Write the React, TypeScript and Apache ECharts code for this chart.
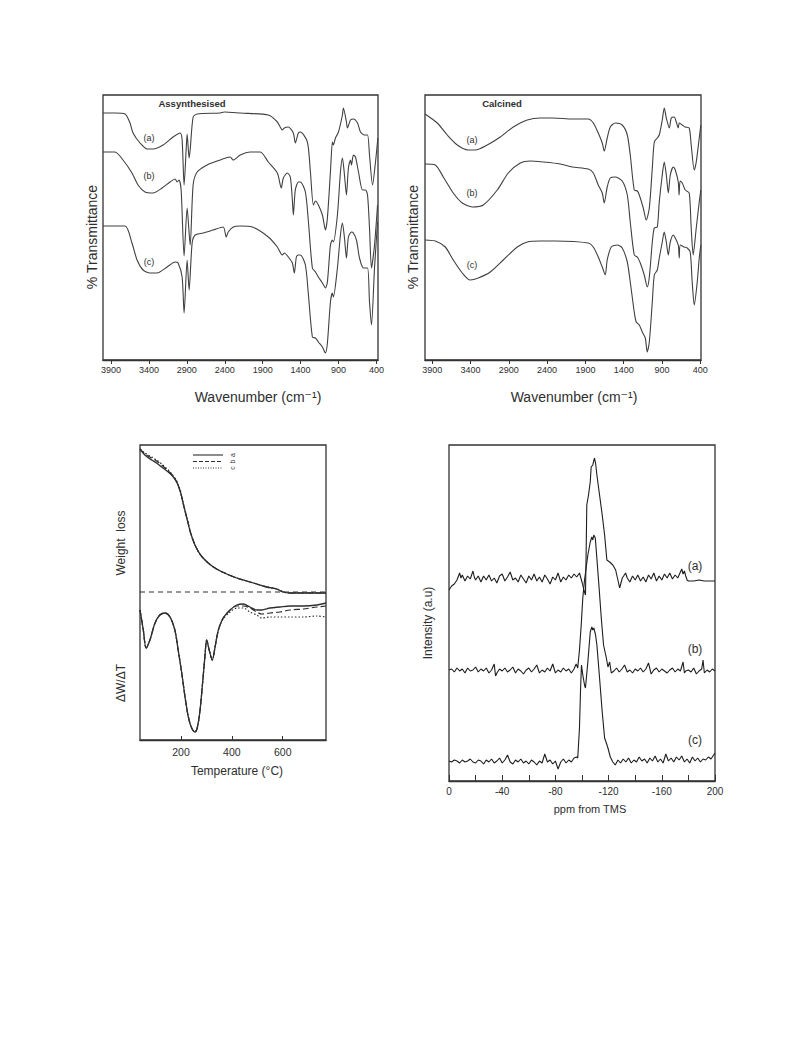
import React, { useEffect, useRef } from "react";
import * as echarts from "echarts";

// ---------- Panel 1: IR, as-synthesised (wavenumber cm-1, relative transmittance) ----------
const irTickValues = [400, 900, 1400, 1900, 2400, 2900, 3400, 3900];

const irSynA: [number, number][] = [
  [4005, 247], [3847, 247], [3715, 246], [3649, 237], [3609, 227], [3517, 217], [3424, 211], [3345, 211],
  [3213, 215], [3081, 223], [2988, 227], [2962, 220], [2936, 175], [2909, 210], [2896, 226], [2870, 202],
  [2856, 210], [2817, 243], [2764, 246], [2460, 247], [2407, 248], [2196, 247], [1826, 245], [1707, 238],
  [1641, 230], [1615, 232], [1562, 233], [1496, 227], [1470, 217], [1430, 227], [1403, 228], [1311, 218],
  [1271, 188], [1232, 155], [1205, 159], [1166, 155], [1113, 145], [1073, 130], [1047, 142], [1007, 188],
  [981, 218], [968, 215], [941, 222], [901, 228], [849, 245], [836, 252], [796, 238], [783, 232],
  [743, 240], [704, 241], [650, 237], [611, 228], [558, 225], [518, 225], [492, 205], [452, 175],
  [413, 198], [382, 222],
];
const irSynB: [number, number][] = [
  [4005, 208], [3847, 208], [3741, 200], [3623, 187], [3543, 175], [3451, 168], [3345, 167], [3226, 172],
  [3121, 178], [3055, 181], [3028, 178], [3002, 180], [2975, 170], [2936, 104], [2896, 152], [2856, 115],
  [2817, 175], [2764, 188], [2632, 195], [2460, 200], [2328, 203], [2289, 200], [2196, 205], [2064, 208],
  [1932, 208], [1826, 198], [1707, 187], [1655, 172], [1628, 182], [1575, 187], [1536, 183], [1509, 160],
  [1496, 145], [1470, 170], [1430, 178], [1403, 178], [1337, 168], [1297, 138], [1245, 92], [1205, 88],
  [1166, 83], [1113, 77], [1073, 72], [1047, 78], [1007, 115], [981, 120], [968, 118], [915, 145],
  [875, 188], [849, 202], [822, 185], [796, 165], [770, 192], [743, 200], [730, 195], [704, 205],
  [677, 203], [637, 188], [584, 170], [545, 170], [518, 165], [492, 132], [466, 92], [426, 115], [386, 155],
];
const irSynC: [number, number][] = [
  [4005, 134], [3715, 134], [3623, 117], [3556, 100], [3477, 90], [3385, 87], [3293, 87], [3160, 93],
  [3055, 98], [3015, 97], [2962, 83], [2936, 47], [2896, 100], [2870, 70], [2830, 117], [2790, 125],
  [2685, 127], [2553, 130], [2420, 133], [2381, 123], [2354, 128], [2289, 133], [2196, 134], [2037, 133],
  [1826, 123], [1707, 113], [1641, 105], [1615, 107], [1562, 103], [1509, 97], [1483, 87], [1456, 103],
  [1430, 105], [1403, 105], [1337, 95], [1297, 65], [1245, 23], [1205, 22], [1166, 18], [1113, 13],
  [1073, 7], [1047, 17], [1007, 58], [981, 67], [968, 63], [915, 92], [875, 125], [849, 137],
  [822, 122], [796, 102], [770, 123], [730, 128], [704, 127], [664, 120], [624, 102], [571, 92],
  [518, 92], [492, 58], [466, 35], [426, 92], [386, 138],
];

// ---------- Panel 2: IR, calcined ----------
const irCalA: [number, number][] = [
  [3995, 246], [3835, 237], [3704, 225], [3573, 215], [3430, 210], [3338, 210], [3182, 215], [3012, 223],
  [2842, 233], [2659, 240], [2490, 242], [2320, 242], [2072, 241], [1863, 241], [1797, 237], [1732, 227],
  [1680, 217], [1654, 209], [1615, 222], [1575, 233], [1510, 237], [1419, 235], [1353, 225], [1314, 205],
  [1262, 170], [1222, 169], [1196, 165], [1144, 152], [1105, 140], [1065, 152], [1026, 192], [1000, 218],
  [961, 222], [935, 225], [896, 240], [870, 252], [843, 242], [804, 232], [778, 242], [739, 243],
  [713, 238], [687, 232], [674, 237], [635, 235], [596, 233], [544, 232], [518, 215], [478, 190],
  [452, 198], [413, 222], [392, 235],
];
const irCalB: [number, number][] = [
  [3995, 196], [3861, 195], [3756, 183], [3626, 167], [3508, 157], [3378, 153], [3234, 155], [3051, 170],
  [2907, 187], [2751, 197], [2620, 199], [2450, 198], [2228, 196], [2072, 193], [1863, 191], [1797, 187],
  [1732, 175], [1680, 167], [1654, 157], [1615, 173], [1575, 182], [1510, 183], [1419, 179], [1353, 165],
  [1314, 138], [1262, 105], [1222, 103], [1183, 97], [1131, 85], [1092, 73], [1065, 83], [1026, 118],
  [1000, 132], [961, 133], [935, 158], [896, 185], [870, 198], [843, 185], [817, 167], [791, 185],
  [752, 193], [726, 190], [687, 178], [676, 165], [663, 179], [635, 177], [596, 170], [544, 167],
  [518, 132], [492, 105], [452, 132], [413, 158], [392, 170],
];
const irCalC: [number, number][] = [
  [3995, 120], [3861, 119], [3730, 113], [3626, 100], [3508, 87], [3404, 80], [3299, 82], [3143, 88],
  [2973, 100], [2790, 113], [2659, 118], [2490, 119], [2294, 119], [1863, 117], [1797, 113], [1732, 103],
  [1680, 93], [1641, 85], [1615, 100], [1562, 113], [1484, 115], [1419, 112], [1353, 98], [1314, 78],
  [1262, 48], [1236, 38], [1196, 35], [1157, 28], [1118, 22], [1092, 8], [1065, 18], [1026, 58],
  [1000, 85], [961, 90], [935, 102], [896, 118], [870, 128], [843, 118], [817, 105], [791, 118],
  [752, 125], [726, 122], [687, 115], [674, 102], [661, 115], [609, 113], [570, 112], [531, 108],
  [505, 78], [478, 55], [439, 78], [413, 102], [392, 115],
];

// ---------- Panel 3: thermal analysis (temperature °C, arbitrary units) ----------
const tgTemps = [39, 58, 85, 104, 124, 150, 170, 185, 199, 212, 225, 238, 255, 277, 307, 340, 380, 419, 458, 498, 537, 576, 602, 629, 655, 770];
const tgA = [291, 285, 280, 277, 273, 268, 263, 257, 247, 233, 220, 207, 195, 185, 177, 171, 166, 162, 159, 156, 153, 151, 148, 147, 147, 147];
const tgB = [291, 286, 282, 279, 275, 269, 264, 257, 247, 233, 220, 207, 195, 185, 177, 171, 166, 162, 159, 156, 153, 151, 148, 147, 147, 147];
const tgC = [291, 287, 283, 280, 276, 270, 264, 258, 248, 234, 221, 207, 195, 185, 177, 171, 166, 162, 159, 156, 153, 151, 148, 147, 147, 147];
const tgBaseline = 148;

const dtgTemps = [39, 52, 63, 78, 98, 117, 137, 157, 176, 189, 203, 216, 229, 242, 255, 264, 275, 285, 294, 301, 311, 323, 334, 347, 366, 393, 419, 445, 471, 498, 517, 550, 589, 629, 681, 734, 770];
const dtgA = [130, 110, 92, 100, 117, 125, 127, 123, 110, 90, 67, 43, 23, 12, 8, 12, 30, 57, 83, 100, 90, 80, 93, 110, 122, 130, 135, 136, 133, 130, 130, 132, 133, 134, 134, 135, 137];
const dtgB = [130, 110, 92, 100, 117, 125, 127, 123, 110, 90, 67, 43, 23, 12, 8, 12, 30, 57, 83, 100, 90, 80, 93, 110, 122, 130, 134, 134, 132, 128, 126, 127, 128, 130, 131, 133, 134];
const dtgC = [130, 110, 92, 100, 117, 125, 127, 123, 110, 90, 67, 43, 23, 12, 8, 12, 30, 57, 83, 100, 90, 80, 93, 110, 121, 128, 132, 132, 128, 125, 122, 123, 123, 123, 123, 124, 123];

// ---------- Panel 4: 29Si NMR (ppm from TMS, intensity a.u.) ----------
const nmrA: [number, number][] = [
  [0, 191], [-1, 193], [-2, 195], [-4, 197], [-6, 201], [-8, 208], [-9, 203], [-10, 206], [-12, 200], [-14, 205],
  [-16, 202], [-18, 210], [-19, 204], [-20, 201], [-22, 205], [-24, 199], [-26, 205], [-28, 201], [-30, 206],
  [-32, 200], [-34, 203], [-36, 198], [-38, 205], [-40, 207], [-42, 200], [-44, 204], [-46, 209], [-48, 201],
  [-50, 203], [-52, 199], [-54, 206], [-56, 202], [-58, 198], [-60, 205], [-62, 201], [-64, 207], [-66, 200],
  [-68, 204], [-70, 199], [-72, 206], [-74, 202], [-76, 197], [-78, 204], [-80, 201], [-82, 208], [-84, 199],
  [-86, 204], [-88, 201], [-90, 206], [-92, 203], [-94, 207], [-96, 204], [-98.1, 208], [-100.2, 198],
  [-101.4, 191], [-102.6, 186], [-103.2, 236], [-103.6, 276], [-104.9, 286], [-106.2, 299], [-106.9, 314],
  [-108.1, 316], [-109.4, 323], [-110.2, 318], [-111.2, 306], [-113.2, 286], [-115.2, 266], [-117, 246],
  [-118.7, 221], [-120.8, 219], [-123.2, 216], [-125.3, 211], [-127, 201], [-128.3, 193], [-130.3, 203],
  [-132.8, 208], [-134, 203], [-136, 199], [-138, 205], [-140, 201], [-142, 206], [-144, 200], [-146, 204],
  [-148, 199], [-150, 206], [-152, 202], [-154, 208], [-156, 200], [-158, 205], [-160, 201], [-162, 207],
  [-164, 203], [-166, 208], [-168, 202], [-170, 206], [-172, 203], [-174, 209], [-175, 212], [-176, 207],
  [-177, 210], [-178, 205], [-179, 201], [-180, 200], [-184, 200], [-188, 201], [-192, 200], [-196, 200], [-200, 200],
];
const nmrB: [number, number][] = [
  [0, 111], [-2, 112], [-4, 109], [-6, 113], [-8, 110], [-10, 112], [-12, 108], [-14, 113], [-16, 110], [-18, 111],
  [-20, 114], [-22, 109], [-24, 112], [-26, 110], [-28, 113], [-30, 108], [-32, 111], [-34, 117], [-35, 105],
  [-36, 108], [-38, 112], [-40, 110], [-42, 113], [-44, 109], [-46, 111], [-48, 114], [-50, 108], [-52, 112],
  [-54, 110], [-56, 107], [-58, 111], [-60, 113], [-62, 109], [-64, 112], [-66, 116], [-68, 108], [-70, 111],
  [-72, 109], [-74, 113], [-76, 110], [-78, 117], [-80, 108], [-82, 111], [-84, 109], [-86, 113], [-88, 110],
  [-90, 112], [-92, 108], [-94, 112], [-95.6, 117], [-96.8, 113], [-98.1, 131], [-99.4, 156], [-100.6, 183],
  [-101.9, 201], [-104.4, 226], [-106.2, 239], [-107.4, 244], [-108.1, 241], [-108.9, 246], [-110, 243],
  [-110.7, 231], [-112.7, 196], [-114.5, 163], [-116.2, 136], [-118.3, 123], [-119.5, 114], [-120.8, 119],
  [-122, 108], [-124, 110], [-126, 113], [-128, 109], [-130, 112], [-132, 116], [-134, 109], [-136, 111],
  [-138, 108], [-140, 112], [-142, 110], [-144, 113], [-146, 109], [-148, 112], [-150, 118], [-152, 107],
  [-154, 111], [-156, 113], [-158, 109], [-160, 112], [-162, 110], [-164, 108], [-166, 111], [-168, 113],
  [-170, 109], [-172, 112], [-174, 110], [-176, 119], [-177, 108], [-178, 110], [-180, 111], [-182, 109],
  [-184, 113], [-186, 107], [-188, 110], [-190, 112], [-191, 121], [-192, 108], [-194, 111], [-196, 109],
  [-198, 112], [-200, 110],
];
const nmrC: [number, number][] = [
  [0, 20], [-2, 19], [-4, 21], [-6, 20], [-8, 18], [-10, 21], [-12, 19], [-14, 20], [-16, 22], [-18, 19],
  [-20, 18], [-22, 21], [-24, 20], [-26, 17], [-28, 21], [-30, 19], [-32, 22], [-34, 18], [-36, 20], [-38, 23],
  [-40, 18], [-42, 21], [-44, 26], [-46, 19], [-48, 17], [-50, 21], [-52, 19], [-54, 22], [-56, 18], [-58, 20],
  [-60, 17], [-62, 21], [-64, 19], [-66, 16], [-68, 20], [-70, 18], [-72, 27], [-74, 19], [-76, 21], [-78, 17],
  [-80, 20], [-82, 12], [-84, 19], [-86, 22], [-88, 18], [-90, 21], [-92, 19], [-94, 23], [-96, 24],
  [-96.8, 23], [-98.1, 53], [-98.9, 91], [-99.6, 116], [-100.6, 106], [-101.9, 96], [-102.6, 93],
  [-104.4, 119], [-106.2, 149], [-107.4, 154], [-108.1, 151], [-108.9, 153], [-110.2, 146], [-111.2, 136],
  [-113.2, 103], [-115.2, 69], [-117, 43], [-118.3, 38], [-119.5, 33], [-121.3, 24], [-123.2, 19],
  [-125, 16], [-127, 21], [-129, 18], [-131, 22], [-133, 19], [-135, 23], [-137, 18], [-139, 21], [-141, 19],
  [-143, 24], [-145, 20], [-147, 22], [-149, 18], [-151, 23], [-153, 20], [-155, 25], [-157, 19], [-159, 22],
  [-161, 18], [-163, 27], [-165, 20], [-167, 23], [-169, 19], [-171, 24], [-173, 21], [-175, 25], [-177, 19],
  [-179, 22], [-181, 18], [-183, 24], [-185, 20], [-187, 23], [-189, 19], [-191, 22], [-193, 21], [-195, 24],
  [-197, 22], [-199, 26], [-200, 28],
];

const FONT = "Liberation Sans, DejaVu Sans, Arial, sans-serif";
const INK = "#2e2e2e";

const zip = (xs: number[], ys: number[]) => xs.map((x, i) => [x, ys[i]]);

function lineSeries(name: string, data: any[], idx: number, opts: any = {}) {
  return {
    name,
    type: "line",
    data,
    xAxisIndex: idx,
    yAxisIndex: idx,
    symbol: "none",
    showSymbol: false,
    smooth: opts.smooth ?? 0,
    lineStyle: { color: opts.color ?? INK, width: opts.width ?? 1.1, type: opts.type ?? "solid" },
    z: 3,
  };
}

function txt(text: string, x: number, y: number, size: number, extra: any = {}) {
  return {
    type: "text",
    x,
    y,
    rotation: extra.rotation ?? 0,
    style: {
      text,
      fontSize: size,
      fontFamily: FONT,
      fontWeight: extra.weight ?? "normal",
      fill: INK,
      align: "center",
      verticalAlign: "middle",
      textAlign: "center",
      textVerticalAlign: "middle",
    },
  };
}

const gridBox = { show: true, borderColor: "#333", borderWidth: 1.3, backgroundColor: "transparent" };

export default function App() {
  const ref = useRef<HTMLDivElement>(null);
  useEffect(() => {
    if (!ref.current) return;
    const chart = echarts.init(ref.current, null, { renderer: "svg" });
    const irX = (gi: number, min: number, max: number) => ({
      gridIndex: gi,
      type: "value",
      min,
      max,
      inverse: true,
      axisLine: { show: true, lineStyle: { color: "#333", width: 1.3 } },
      splitLine: { show: false },
      axisTick: { show: true, inside: false, length: 4, customValues: irTickValues, lineStyle: { color: "#333" } },
      axisLabel: {
        customValues: irTickValues,
        fontSize: 9,
        color: INK,
        margin: 5,
        fontFamily: FONT,
        formatter: (v: number) => String(v),
      },
    });
    const hiddenY = (gi: number, max: number) => ({ gridIndex: gi, type: "value", min: 0, max, show: false });

    const option: any = {
      animation: false,
      backgroundColor: "#fff",
      grid: [
        { left: 103, top: 95, width: 275, height: 265, ...gridBox },
        { left: 425, top: 95, width: 276, height: 265, ...gridBox },
        { left: 140, top: 445, width: 186, height: 295, ...gridBox },
        { left: 449, top: 445, width: 266, height: 336, ...gridBox },
      ],
      xAxis: [
        irX(0, 380, 4005),
        irX(1, 390, 3995),
        {
          gridIndex: 2,
          type: "value",
          min: 39,
          max: 770,
          axisLine: { show: true, lineStyle: { color: "#333", width: 1.3 } },
          splitLine: { show: false },
          axisTick: { show: true, inside: true, length: 4, customValues: [200, 400, 600], lineStyle: { color: "#333" } },
          axisLabel: {
            customValues: [200, 400, 600],
            fontSize: 10.5,
            color: INK,
            margin: 6,
            fontFamily: FONT,
            formatter: (v: number) => String(v),
          },
        },
        {
          gridIndex: 3,
          type: "value",
          min: -200,
          max: 0,
          interval: 20,
          inverse: true,
          axisLine: { show: true, lineStyle: { color: "#333", width: 1.3 } },
          splitLine: { show: false },
          axisTick: { show: true, inside: true, length: 6, lineStyle: { color: "#333" } },
          axisLabel: {
            interval: 0,
            showMinLabel: true,
            showMaxLabel: true,
            fontSize: 10,
            color: INK,
            margin: 5,
            fontFamily: FONT,
            formatter: (v: number) => (v === -200 ? "200" : v % 40 === 0 ? String(v === 0 ? 0 : v) : ""),
          },
        },
      ],
      yAxis: [hiddenY(0, 265), hiddenY(1, 265), hiddenY(2, 295), hiddenY(3, 336)],
      series: [
        lineSeries("as-synthesised (a)", irSynA, 0, { smooth: 0.25, color: "#404040" }),
        lineSeries("as-synthesised (b)", irSynB, 0, { smooth: 0.25, color: "#404040" }),
        lineSeries("as-synthesised (c)", irSynC, 0, { smooth: 0.25, color: "#404040" }),
        lineSeries("calcined (a)", irCalA, 1, { smooth: 0.25, color: "#404040" }),
        lineSeries("calcined (b)", irCalB, 1, { smooth: 0.25, color: "#404040" }),
        lineSeries("calcined (c)", irCalC, 1, { smooth: 0.25, color: "#404040" }),
        lineSeries("TG a", zip(tgTemps, tgA), 2, { smooth: 0.3, width: 1.3 }),
        lineSeries("TG b", zip(tgTemps, tgB), 2, { smooth: 0.3, width: 1.2, type: [6, 3] }),
        lineSeries("TG c", zip(tgTemps, tgC), 2, { smooth: 0.3, width: 1.2, type: [1.5, 2] }),
        lineSeries("TG baseline", [[39, tgBaseline], [770, tgBaseline]], 2, { width: 1.1, type: [5, 4] }),
        lineSeries("DTG a", zip(dtgTemps, dtgA), 2, { smooth: 0.3, width: 1.3 }),
        lineSeries("DTG b", zip(dtgTemps, dtgB), 2, { smooth: 0.3, width: 1.2, type: [6, 3] }),
        lineSeries("DTG c", zip(dtgTemps, dtgC), 2, { smooth: 0.3, width: 1.2, type: [1.5, 2] }),
        lineSeries("NMR a", nmrA, 3, { width: 1.1, color: "#1e1e1e" }),
        lineSeries("NMR b", nmrB, 3, { width: 1.1, color: "#1e1e1e" }),
        lineSeries("NMR c", nmrC, 3, { width: 1.1, color: "#1e1e1e" }),
      ],
      graphic: [
        // Panel 1
        txt("Assynthesised", 192, 103, 9.5, { weight: "bold" }),
        txt("(a)", 149, 138, 9),
        txt("(b)", 149, 176, 9),
        txt("(c)", 149, 262, 9),
        txt("Wavenumber (cm⁻¹)", 258, 397, 14),
        txt("% Transmittance", 92, 237, 14, { rotation: Math.PI / 2 }),
        // Panel 2
        txt("Calcined", 502, 103, 9.5, { weight: "bold" }),
        txt("(a)", 472, 140, 9),
        txt("(b)", 472, 193, 9),
        txt("(c)", 472, 265, 9),
        txt("Wavenumber (cm⁻¹)", 574, 397, 14),
        txt("% Transmittance", 413, 237, 14, { rotation: Math.PI / 2 }),
        // Panel 3
        txt("Weight  loss", 121, 543, 12, { rotation: Math.PI / 2 }),
        txt("ΔW/ΔT", 121, 683, 12, { rotation: Math.PI / 2 }),
        txt("Temperature (°C)", 237, 771, 12),
        { type: "line", shape: { x1: 193, y1: 455, x2: 223, y2: 455 }, style: { stroke: INK, lineWidth: 1.1 } },
        { type: "line", shape: { x1: 193, y1: 461.5, x2: 223, y2: 461.5 }, style: { stroke: INK, lineWidth: 1.1, lineDash: [4, 2] } },
        { type: "line", shape: { x1: 193, y1: 468, x2: 223, y2: 468 }, style: { stroke: INK, lineWidth: 1.1, lineDash: [1, 1.5] } },
        txt("a", 232, 455, 7, { rotation: Math.PI / 2 }),
        txt("b", 232, 461.5, 7, { rotation: Math.PI / 2 }),
        txt("c", 232, 468, 7, { rotation: Math.PI / 2 }),
        // Panel 4
        txt("Intensity (a.u)", 428, 623, 12, { rotation: Math.PI / 2 }),
        txt("ppm from TMS", 590, 809, 11),
        txt("(a)", 695, 566, 12),
        txt("(b)", 695, 649, 12),
        txt("(c)", 695, 740, 12),
      ],
    };
    chart.setOption(option);
    return () => chart.dispose();
  }, []);
  return (
    <div
      ref={ref}
      style={{ position: "fixed", left: 0, top: 0, width: "789px", height: "1059px", background: "#fff" }}
    />
  );
}
